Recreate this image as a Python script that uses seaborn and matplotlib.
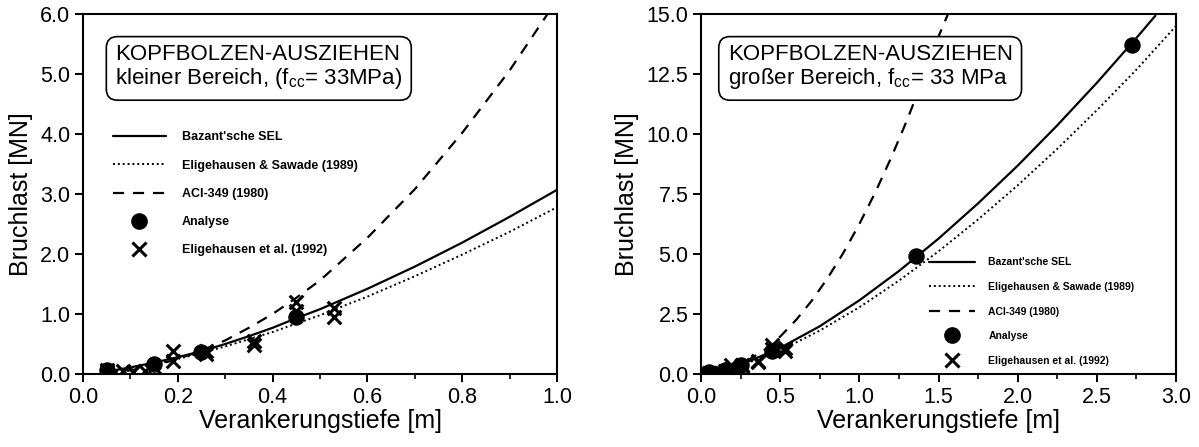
import numpy as np
import pandas as pd
import seaborn as sns
import matplotlib.pyplot as plt
from matplotlib.lines import Line2D

# Kleiner Bereich (links)
x_kl = [0.05, 0.1, 0.15, 0.2, 0.25, 0.3, 0.35, 0.4, 0.45, 0.5, 0.6, 0.7, 0.8, 0.9, 1.0]
sel_kl = [0.04, 0.11, 0.19, 0.28, 0.38, 0.50, 0.63, 0.77, 0.93, 1.08, 1.42, 1.79, 2.19, 2.62, 3.07]
saw_kl = [0.03, 0.09, 0.16, 0.25, 0.35, 0.46, 0.58, 0.70, 0.84, 0.98, 1.29, 1.63, 1.99, 2.37, 2.78]
x_aci_kl = [0.05, 0.1, 0.15, 0.2, 0.25, 0.3, 0.35, 0.4, 0.45, 0.5, 0.6, 0.7, 0.8, 0.9, 0.98]
aci_kl = [0.02, 0.06, 0.14, 0.25, 0.39, 0.56, 0.77, 1.0, 1.27, 1.56, 2.27, 3.08, 4.02, 5.06, 6.0]

# Großer Bereich (rechts)
x_gr = [0.05, 0.25, 0.5, 0.75, 1.0, 1.25, 1.5, 1.75, 2.0, 2.25, 2.5, 2.75, 2.87]
sel_gr = [0.04, 0.38, 1.09, 1.99, 3.07, 4.29, 5.64, 7.11, 8.68, 10.36, 12.13, 14.0, 14.93]
x_saw_gr = [0.05, 0.25, 0.5, 0.75, 1.0, 1.25, 1.5, 1.75, 2.0, 2.25, 2.5, 2.75, 3.0]
saw_gr = [0.03, 0.35, 0.98, 1.81, 2.78, 3.89, 5.11, 6.44, 7.86, 9.38, 10.99, 12.68, 14.5]
x_aci_gr = [0.05, 0.25, 0.4, 0.5, 0.6, 0.7, 0.8, 0.9, 1.0, 1.1, 1.2, 1.3, 1.4, 1.5, 1.56]
aci_gr = [0.02, 0.39, 1.0, 1.56, 2.25, 3.06, 4.0, 5.06, 6.25, 7.56, 9.0, 10.56, 12.25, 14.06, 15.0]

# Analyse
ana_x_kl = [0.05, 0.15, 0.25, 0.45]
ana_y_kl = [0.07, 0.17, 0.37, 0.95]
ana_x_gr = [0.05, 0.15, 0.25, 0.45, 1.36, 2.72]
ana_y_gr = [0.07, 0.17, 0.37, 0.95, 4.9, 13.7]

# Eligehausen et al. (1992)
exp_x = [0.05, 0.05, 0.085, 0.105, 0.13, 0.15, 0.19, 0.19, 0.26, 0.26, 0.36, 0.36, 0.45, 0.45, 0.53, 0.53]
exp_y = [0.06, 0.04, 0.05, 0.03, 0.05, 0.12, 0.38, 0.22, 0.38, 0.34, 0.55, 0.48, 1.2, 1.05, 1.1, 0.95]

labels = ["Bazant'sche SEL", "Eligehausen & Sawade (1989)", "ACI-349 (1980)",
          "Analyse", "Eligehausen et al. (1992)"]

sns.set_style("ticks")
plt.rcParams['font.family'] = ['Liberation Sans', 'DejaVu Sans']
plt.rcParams['mathtext.fontset'] = 'custom'
plt.rcParams['mathtext.rm'] = 'Liberation Sans'
plt.rcParams['mathtext.it'] = 'Liberation Sans'
plt.rcParams['text.color'] = 'black'
plt.rcParams['axes.labelcolor'] = 'black'
plt.rcParams['xtick.color'] = 'black'
plt.rcParams['ytick.color'] = 'black'

fig = plt.figure(figsize=(11.99, 4.47), dpi=100)
ax1 = fig.add_axes([0.0692, 0.1633, 0.3954, 0.8054])
ax2 = fig.add_axes([0.5847, 0.1633, 0.3961, 0.8054])


def zeichne(ax, xs, ys, xd, yd, xa, ya, axn, ayn, ms):
    sns.lineplot(x=xs, y=ys, ax=ax, color='black', lw=1.6, linestyle='-')
    sns.lineplot(x=xd, y=yd, ax=ax, color='black', lw=1.4, linestyle=(0, (1, 1.5)))
    sns.lineplot(x=xa, y=ya, ax=ax, color='black', lw=1.6, linestyle=(0, (5, 4)))
    sns.scatterplot(x=axn, y=ayn, ax=ax, color='black', marker='o', s=ms, edgecolor='black', zorder=5)
    sns.scatterplot(x=exp_x, y=exp_y, ax=ax, color='black', marker='x', s=ms * 0.8, linewidth=2.2, zorder=5)
    for s in ax.spines.values():
        s.set_linewidth(1.5)
        s.set_visible(True)
        s.set_color('black')
    ax.tick_params(which='major', direction='out', length=6, width=1.4, labelsize=15.5, pad=3)
    ax.tick_params(which='minor', direction='out', length=3.5, width=1.2)
    ax.set_xlabel('Verankerungstiefe [m]', fontsize=18, labelpad=1)
    ax.set_ylabel('Bruchlast [MN]', fontsize=18, labelpad=5)


zeichne(ax1, x_kl, sel_kl, x_kl, saw_kl, x_aci_kl, aci_kl, ana_x_kl, ana_y_kl, 120)
ax1.set_xlim(0, 1.0)
ax1.set_ylim(0, 6.0)
ax1.set_xticks(np.arange(0, 1.01, 0.2))
ax1.set_xticks(np.arange(0, 1.01, 0.1), minor=True)
ax1.set_yticks(np.arange(0, 6.01, 1.0))
ax1.xaxis.set_major_formatter(plt.FormatStrFormatter('%.1f'))
ax1.yaxis.set_major_formatter(plt.FormatStrFormatter('%.1f'))

zeichne(ax2, x_gr, sel_gr, x_saw_gr, saw_gr, x_aci_gr, aci_gr, ana_x_gr, ana_y_gr, 120)
ax2.set_xlim(0, 3.0)
ax2.set_ylim(0, 15.0)
ax2.set_xticks(np.arange(0, 3.01, 0.5))
ax2.set_xticks(np.arange(0, 3.01, 0.25), minor=True)
ax2.set_yticks(np.arange(0, 15.01, 2.5))
ax2.xaxis.set_major_formatter(plt.FormatStrFormatter('%.1f'))
ax2.yaxis.set_major_formatter(plt.FormatStrFormatter('%.1f'))

box = dict(boxstyle='round,pad=0.4,rounding_size=0.5', fc='white', ec='black', lw=1.2)
ax1.text(0.068, 0.918, 'KOPFBOLZEN-AUSZIEHEN\nkleiner Bereich, (f$_{\\mathrm{cc}}$= 33MPa)',
         transform=ax1.transAxes, fontsize=16, va='top', ha='left', bbox=box, linespacing=1.1)
ax2.text(0.056, 0.918, 'KOPFBOLZEN-AUSZIEHEN\ngroßer Bereich, f$_{\\mathrm{cc}}$= 33 MPa',
         transform=ax2.transAxes, fontsize=16, va='top', ha='left', bbox=box, linespacing=1.1)


def handles():
    return [
        Line2D([], [], color='black', lw=1.6, linestyle='-'),
        Line2D([], [], color='black', lw=1.4, linestyle=(0, (1, 1.5))),
        Line2D([], [], color='black', lw=1.6, linestyle=(0, (5, 4))),
        Line2D([], [], color='black', marker='o', markersize=11, linestyle='none'),
        Line2D([], [], color='black', marker='x', markersize=10, mew=2.2, linestyle='none'),
    ]


ax1.legend(handles(), labels, loc='upper left', bbox_to_anchor=(0.04, 0.705), frameon=False,
           prop={'size': 9, 'weight': 'bold'}, handlelength=4.2, handletextpad=1.3,
           labelspacing=1.3)
ax2.legend(handles(), labels, loc='upper left', bbox_to_anchor=(0.46, 0.35), frameon=False,
           prop={'size': 7.5, 'weight': 'bold'}, handlelength=4.4, handletextpad=1.3,
           labelspacing=1.4)

fig.savefig('out.png', dpi=100)
